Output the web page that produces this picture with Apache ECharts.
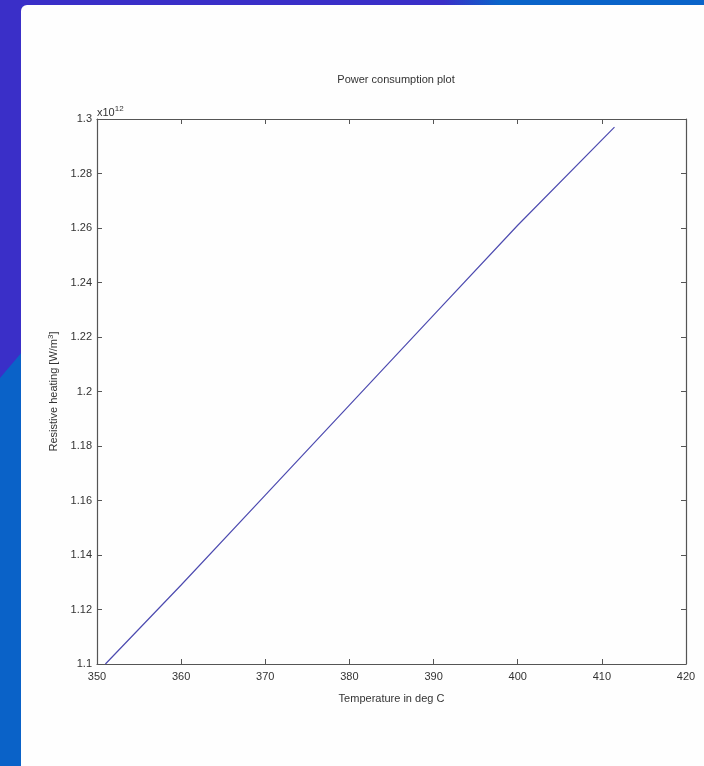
<!DOCTYPE html>
<html>
<head>
<meta charset="utf-8">
<script src="https://cdn.jsdelivr.net/npm/echarts@6/dist/echarts.min.js"></script>
<style>
  html, body { margin:0; padding:0; width:704px; height:766px; overflow:hidden; }
  body { background:#3a2fc8; position:relative; }
  #topband { position:absolute; left:0; top:0; width:704px; height:8px;
    background: linear-gradient(90deg, #3a2fc8 0, #3a2fc8 63%, #0a64c9 71%, #0a64c9 100%); }
  #leftlight { position:absolute; left:0; top:0; width:22px; height:766px; background:#0a62c8;
    clip-path: polygon(0px 378px, 22px 352px, 22px 766px, 0px 766px); }
  #panel { position:absolute; left:21px; top:5px; width:683px; height:761px; background:#fefefe;
    border-top-left-radius:6px; }
  #chart { position:absolute; left:0; top:0; width:704px; height:766px; }
</style>
</head>
<body>
<div id="topband"></div>
<div id="leftlight"></div>
<div id="panel"></div>
<div id="chart"></div>
<script>
// Data
const temperature = [351, 360, 370, 380, 390, 400, 411.5];     // deg C
const heating     = [1.1, 1.129, 1.162, 1.195, 1.228, 1.261, 1.297]; // x 10^12 W/m^3
const xTicks = { min: 350, max: 420, interval: 10 };
const yTicks = { min: 1.1, max: 1.3, interval: 0.02 };
const titleText = 'Power consumption plot';
const xName = 'Temperature in deg C';
const yName = 'Resistive heating [W/m{sup|3}]';
const exponentText = 'x10{sup|12}';

const points = temperature.map((t, i) => [t, heating[i]]);
const font = 'Liberation Sans';
const axisColor = '#555';
const textColor = '#333';

const chart = echarts.init(document.getElementById('chart'), null, { renderer: 'canvas' });

const commonAxis = {
  axisLine: { show: true, lineStyle: { color: axisColor, width: 1.2 } },
  axisTick: { show: true, inside: true, length: 5, lineStyle: { color: axisColor } },
  splitLine: { show: false },
};

chart.setOption({
  backgroundColor: 'transparent',
  animation: false,
  title: {
    text: titleText,
    left: 391, top: 69, textAlign: 'center',
    textStyle: { fontFamily: font, fontSize: 11, fontWeight: 'normal', color: textColor }
  },
  grid: { left: 97, right: 18, top: 119, bottom: 102 },
  xAxis: [
    Object.assign({}, commonAxis, {
      type: 'value', position: 'bottom', min: xTicks.min, max: xTicks.max, interval: xTicks.interval,
      name: xName, nameLocation: 'middle', nameGap: 29,
      nameTextStyle: { fontFamily: font, fontSize: 11, color: textColor },
      axisLabel: { margin: 7, fontFamily: font, fontSize: 11, color: textColor }
    }),
    Object.assign({}, commonAxis, {
      type: 'value', position: 'top', min: xTicks.min, max: xTicks.max, interval: xTicks.interval,
      axisLabel: { show: false }
    })
  ],
  yAxis: [
    Object.assign({}, commonAxis, {
      type: 'value', position: 'left', min: yTicks.min, max: yTicks.max, interval: yTicks.interval,
      name: yName, nameLocation: 'middle', nameGap: 30, nameRotate: 90,
      nameTextStyle: { fontFamily: font, fontSize: 11, color: textColor,
        rich: { sup: { fontFamily: font, fontSize: 8, color: textColor, verticalAlign: 'top', padding: [0,0,6,0] } } },
      axisLabel: { margin: 5, fontFamily: font, fontSize: 11, color: textColor,
        formatter: v => String(+v.toFixed(2)) }
    }),
    Object.assign({}, commonAxis, {
      type: 'value', position: 'right', min: yTicks.min, max: yTicks.max, interval: yTicks.interval,
      axisLabel: { show: false }
    })
  ],
  graphic: [{
    type: 'text', left: 97, top: 105,
    style: {
      text: exponentText, fontFamily: font, fontSize: 11, fill: textColor,
      rich: { sup: { fontFamily: font, fontSize: 8, fill: textColor, padding: [0,0,8,0] } }
    }
  }],
  series: [{
    type: 'line', xAxisIndex: 0, yAxisIndex: 0,
    data: points, showSymbol: false, symbol: 'none',
    lineStyle: { color: '#4d4bb0', width: 1.2 }
  }]
});
</script>
</body>
</html>
